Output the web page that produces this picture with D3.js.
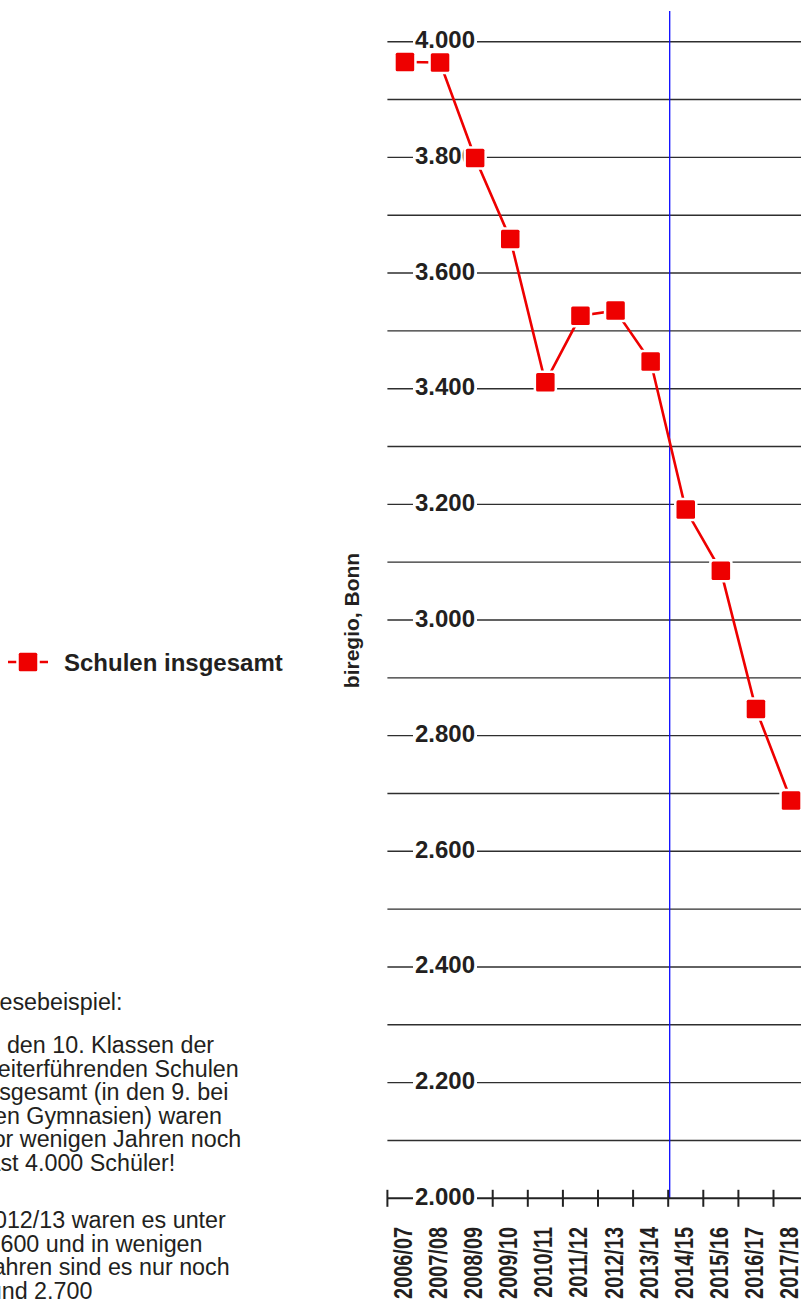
<!DOCTYPE html>
<html>
<head>
<meta charset="utf-8">
<script src="https://cdn.jsdelivr.net/npm/d3@7"></script>
<style>
  html, body { margin: 0; padding: 0; background: #fff; }
  svg { display: block; }
</style>
</head>
<body>
<script>
// ---- data ----
const categories = ["2006/07","2007/08","2008/09","2009/10","2010/11","2011/12","2012/13","2013/14","2014/15","2015/16","2016/17","2017/18"];
const values = [3965, 3964, 3799, 3659, 3411, 3526, 3535, 3447, 3191, 3085, 2846, 2688];
const gridTicks = d3.range(2000, 4001, 100);
const labelTicks = d3.range(2000, 4001, 200);
const seriesName = "Schulen insgesamt";
const axisTitle = "biregio, Bonn";
const forecastStart = "2014/15";
const noteTitle = "Lesebeispiel:";
const notePara1 = ["In den 10. Klassen der", "weiterführenden Schulen", "insgesamt (in den 9. bei", "den Gymnasien) waren", "vor wenigen Jahren noch", "fast 4.000 Schüler!"];
const notePara2 = ["2012/13 waren es unter", "3.600 und in wenigen", "Jahren sind es nur noch", "rund 2.700"];

const W = 801, H = 1301;
const FONT = "'Liberation Sans', Arial, Helvetica, sans-serif";
const RED = "#ee0000";
const TXT = "#231f20";

const svg = d3.select("body").append("svg")
  .attr("width", W).attr("height", H)
  .style("font-family", FONT);

const x0 = 387.4, bw = 35.1;
const x = d3.scaleBand().domain(categories).range([x0, x0 + bw * categories.length]).padding(0);
const y = d3.scaleLinear().domain([2000, 4000]).range([1198.3, 41.7]);

// gridlines
svg.append("g").selectAll("line").data(gridTicks.filter(d => d > 2000)).join("line")
  .attr("x1", x0).attr("x2", W)
  .attr("y1", d => y(d)).attr("y2", d => y(d))
  .attr("stroke", "#2e2e2e").attr("stroke-width", 1.4);

// blue forecast line
svg.append("line")
  .attr("x1", x(forecastStart) + 1.5).attr("x2", x(forecastStart) + 1.5)
  .attr("y1", 11).attr("y2", y(2000))
  .attr("stroke", "#0a0aff").attr("stroke-width", 1.3);

// x axis line + ticks at band boundaries
const bounds = categories.map(c => x(c)).concat([x(categories[categories.length - 1]) + x.bandwidth()]);
svg.append("line").attr("x1", x0).attr("x2", W).attr("y1", y(2000)).attr("y2", y(2000))
  .attr("stroke", "#222").attr("stroke-width", 2);
svg.append("g").selectAll("line").data(bounds).join("line")
  .attr("x1", d => d).attr("x2", d => d)
  .attr("y1", y(2000) - 8.5).attr("y2", y(2000) + 8.5)
  .attr("stroke", "#222").attr("stroke-width", 2);

// y labels with white background
const yl = svg.append("g").selectAll("g").data(labelTicks).join("g")
  .attr("transform", d => `translate(414,${y(d)})`);
yl.append("rect").attr("x", -1).attr("y", -10).attr("width", 64).attr("height", 20).attr("fill", "#fff");
yl.append("text").attr("x", 1).attr("y", 6.5)
  .attr("font-size", 24).attr("font-weight", "bold").attr("fill", TXT)
  .text(d => d3.format(",")(d).replace(",", "."));

// x labels (rotated)
svg.append("g").selectAll("text").data(categories).join("text")
  .attr("transform", d => `translate(${x(d) + x.bandwidth() / 2 + 7},1227) rotate(-90) scale(0.78,1)`)
  .attr("text-anchor", "end")
  .attr("font-size", 25.5).attr("font-weight", "bold").attr("fill", TXT)
  .text(d => d);

// series line
const line = d3.line().x(d => x(d.c) + x.bandwidth() / 2).y(d => y(d.v));
const pts = categories.map((c, i) => ({ c, v: values[i] }));
svg.append("path").datum(pts).attr("d", line)
  .attr("fill", "none").attr("stroke", RED).attr("stroke-width", 2.6);

// markers
const ms = 18.5;
const mk = svg.append("g").selectAll("g").data(pts).join("g")
  .attr("transform", d => `translate(${x(d.c) + x.bandwidth() / 2},${y(d.v)})`);
mk.append("rect").attr("x", -ms / 2 - 2.5).attr("y", -ms / 2 - 2.5).attr("width", ms + 5).attr("height", ms + 5)
  .attr("rx", 3).attr("fill", "#fff");
mk.append("rect").attr("x", -ms / 2).attr("y", -ms / 2).attr("width", ms).attr("height", ms)
  .attr("rx", 1.5).attr("fill", RED);

// axis title
svg.append("text")
  .attr("transform", "translate(359,620.5) rotate(-90)")
  .attr("text-anchor", "middle")
  .attr("font-size", 21).attr("font-weight", "bold").attr("fill", TXT)
  .text(axisTitle);

// legend
const lg = svg.append("g").attr("transform", "translate(28,662)");
lg.append("line").attr("x1", -20).attr("x2", 20).attr("y1", 0).attr("y2", 0)
  .attr("stroke", RED).attr("stroke-width", 2.6);
lg.append("rect").attr("x", -ms / 2 - 2.5).attr("y", -ms / 2 - 2.5).attr("width", ms + 5).attr("height", ms + 5)
  .attr("rx", 3).attr("fill", "#fff");
lg.append("rect").attr("x", -ms / 2).attr("y", -ms / 2).attr("width", ms).attr("height", ms)
  .attr("rx", 1.5).attr("fill", RED);
svg.append("text").attr("x", 64).attr("y", 671)
  .attr("font-size", 24).attr("font-weight", "bold").attr("fill", TXT)
  .text(seriesName);

// note text
const nx = -19, lh = 23.6;
const note = svg.append("g").attr("font-size", 23.3).attr("fill", TXT);
note.append("text").attr("x", -13.5).attr("y", 1010).text(noteTitle);
note.selectAll("text.p1").data(notePara1).join("text").attr("class", "p1")
  .attr("x", nx).attr("y", (d, i) => 1053 + i * lh).text(d => d);
note.selectAll("text.p2").data(notePara2).join("text").attr("class", "p2")
  .attr("x", nx).attr("y", (d, i) => 1228 + i * lh).text(d => d);
</script>
</body>
</html>
